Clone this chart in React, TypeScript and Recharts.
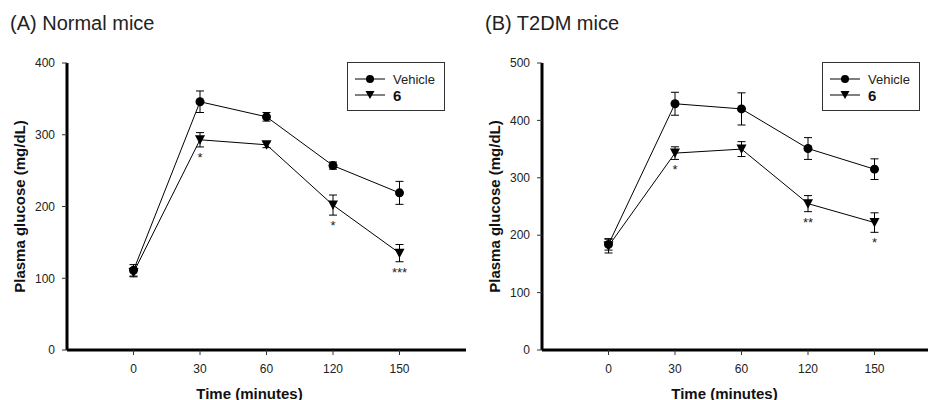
import React from 'react';
import { ErrorBar, Label, LabelList, Legend, Line, LineChart, XAxis, YAxis } from 'recharts';

const timeLabels = ['0', '30', '60', '120', '150'];

const normalVehicle = [111, 346, 325, 257, 219];
const normalVehicleErr = [8, 15, 6, 5, 16];
const normalDrug = [108, 293, 286, 202, 135];
const normalDrugErr = [6, 10, 4, 14, 12];
const normalSig = ['', '*', '', '*', '***'];
const normalTicks = [0, 100, 200, 300, 400];

const t2dmVehicle = [184, 429, 420, 351, 315];
const t2dmVehicleErr = [10, 20, 28, 19, 18];
const t2dmDrug = [181, 343, 350, 255, 222];
const t2dmDrugErr = [12, 11, 13, 14, 17];
const t2dmSig = ['', '*', '', '**', '*'];
const t2dmTicks = [0, 100, 200, 300, 400, 500];

const FONT = '"Liberation Sans", Arial, sans-serif';
const PLOT_TOP = 63;
const PLOT_H = 287;
const PLOT_W = 399;

const buildRows = (veh: number[], vehErr: number[], drug: number[], drugErr: number[], sig: string[]) =>
  timeLabels.map((t, i) => ({
    idx: i,
    time: t,
    vehicle: veh[i],
    vehicleErr: vehErr[i],
    drug: drug[i],
    drugErr: drugErr[i],
    sig: sig[i],
  }));

const CircleDot = (props: any) => {
  const { cx, cy } = props;
  if (cx == null || cy == null) return null;
  return <circle cx={cx} cy={cy} r={4.5} fill="#000" />;
};

const TriangleDot = (props: any) => {
  const { cx, cy } = props;
  if (cx == null || cy == null) return null;
  return <polygon points={`${cx - 5},${cy - 4.5} ${cx + 5},${cy - 4.5} ${cx},${cy + 5}`} fill="#000" />;
};

const LegendBox = () => (
  <div
    style={{
      width: 98,
      height: 49,
      boxSizing: 'border-box',
      border: '1px solid #333',
      background: '#fff',
      fontFamily: FONT,
      position: 'relative',
    }}
  >
    <svg width={98} height={49} style={{ position: 'absolute', left: -1, top: -1 }}>
      <line x1={8} x2={38} y1={17} y2={17} stroke="#000" strokeWidth={1} />
      <circle cx={23} cy={17} r={4} fill="#000" />
      <text x={46} y={17} dominantBaseline="central" fontSize={13} fill="#222" fontFamily={FONT}>
        Vehicle
      </text>
      <line x1={8} x2={38} y1={33} y2={33} stroke="#000" strokeWidth={1} />
      <polygon points="18.5,29 27.5,29 23,37" fill="#000" />
      <text x={46} y={33} dominantBaseline="central" fontSize={15} fontWeight="bold" fill="#111" fontFamily={FONT}>
        6
      </text>
    </svg>
  </div>
);

type PanelProps = {
  rows: ReturnType<typeof buildRows>;
  yMax: number;
  yTicks: number[];
  axisW: number;
  legendLeft: number;
};

const Panel = ({ rows, yMax, yTicks, axisW, legendLeft }: PanelProps) => {
  const ppu = PLOT_H / yMax;
  const renderSig = (props: any) => {
    const { x, y, index } = props;
    const r = rows[index];
    if (!r || !r.sig) return null;
    return (
      <text
        x={x}
        y={y + r.drugErr * ppu + 15}
        textAnchor="middle"
        fontSize={13}
        fill="#222"
        fontFamily={FONT}
      >
        {r.sig}
      </text>
    );
  };
  return (
    <LineChart
      width={axisW + PLOT_W}
      height={400}
      data={rows}
      margin={{ top: PLOT_TOP, right: 0, bottom: 0, left: 0 }}
    >
      <XAxis
        dataKey="idx"
        type="number"
        domain={[-1, 5]}
        ticks={[0, 1, 2, 3, 4]}
        tickFormatter={(i: number) => timeLabels[i]}
        height={50}
        axisLine={{ stroke: '#000', strokeWidth: 3 }}
        tickLine={{ stroke: '#333' }}
        tickSize={5}
        tickMargin={9}
        tick={{ fill: '#222', fontSize: 12, fontFamily: FONT }}
        allowDataOverflow
      >
        <Label
          content={(p: any) => {
            const vb = p.viewBox;
            return (
              <text
                x={vb.x + vb.width / 2 - 17}
                y={vb.y + 43}
                textAnchor="middle"
                dominantBaseline="central"
                fontSize={15}
                fontWeight="bold"
                fill="#111"
                fontFamily={FONT}
              >
                Time (minutes)
              </text>
            );
          }}
        />
      </XAxis>
      <YAxis
        type="number"
        domain={[0, yMax]}
        ticks={yTicks}
        width={axisW}
        axisLine={{ stroke: '#000', strokeWidth: 3 }}
        tickLine={{ stroke: '#333' }}
        tickSize={5}
        tickMargin={7}
        tick={{ fill: '#222', fontSize: 12, fontFamily: FONT }}
      >
        <Label
          content={() => {
            const cx = axisW - 48;
            const cy = PLOT_TOP + PLOT_H / 2;
            return (
              <text
                x={cx}
                y={cy}
                transform={`rotate(-90, ${cx}, ${cy})`}
                textAnchor="middle"
                dominantBaseline="central"
                fontSize={15}
                fontWeight="bold"
                fill="#111"
                fontFamily={FONT}
              >
                Plasma glucose (mg/dL)
              </text>
            );
          }}
        />
      </YAxis>
      <Legend
        layout="vertical"
        align="center"
        verticalAlign="middle"
        content={() => <LegendBox />}
        wrapperStyle={{ top: 62, left: legendLeft, width: 98, height: 49 }}
      />
      <Line
        dataKey="vehicle"
        stroke="#000"
        strokeWidth={1}
        dot={<CircleDot />}
        activeDot={false}
        isAnimationActive={false}
      >
        <ErrorBar dataKey="vehicleErr" width={4} stroke="#000" strokeWidth={1} direction="y" />
      </Line>
      <Line
        dataKey="drug"
        stroke="#000"
        strokeWidth={1}
        dot={<TriangleDot />}
        activeDot={false}
        isAnimationActive={false}
      >
        <ErrorBar dataKey="drugErr" width={4} stroke="#000" strokeWidth={1} direction="y" />
        <LabelList dataKey="sig" content={renderSig} />
      </Line>
    </LineChart>
  );
};

const titleStyle: React.CSSProperties = {
  position: 'absolute',
  top: 12,
  fontFamily: FONT,
  fontSize: 20,
  lineHeight: '22px',
  color: '#222',
  whiteSpace: 'nowrap',
};

export default function App() {
  const normalRows = buildRows(normalVehicle, normalVehicleErr, normalDrug, normalDrugErr, normalSig);
  const t2dmRows = buildRows(t2dmVehicle, t2dmVehicleErr, t2dmDrug, t2dmDrugErr, t2dmSig);
  return (
    <div
      style={{
        position: 'absolute',
        left: 0,
        top: 0,
        width: 928,
        height: 400,
        overflow: 'hidden',
        background: '#fff',
      }}
    >
      <div style={{ ...titleStyle, left: 10 }}>(A) Normal mice</div>
      <div style={{ ...titleStyle, left: 485 }}>(B) T2DM mice</div>
      <div style={{ position: 'absolute', left: 0, top: 0 }}>
        <Panel rows={normalRows} yMax={400} yTicks={normalTicks} axisW={67} legendLeft={347} />
      </div>
      <div style={{ position: 'absolute', left: 464, top: 0 }}>
        <Panel rows={t2dmRows} yMax={500} yTicks={t2dmTicks} axisW={78} legendLeft={358} />
      </div>
    </div>
  );
}
